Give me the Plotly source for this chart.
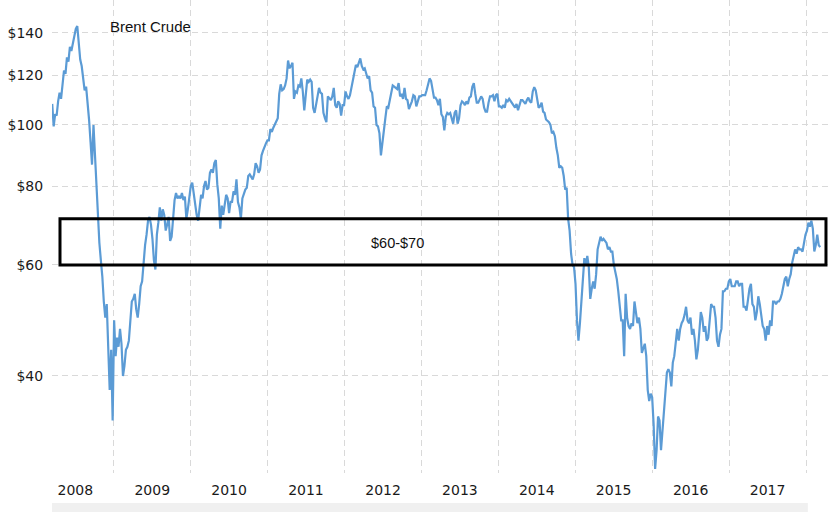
import numpy as np
import pandas as pd
import plotly.graph_objects as go

# Weekly (Friday) Brent crude prices, USD/barrel
brent_2008 = [108, 99.5, 104,
              103.5, 109, 112.5, 110,
              116, 122, 120.5, 128, 126,
              133, 131, 135, 139.5,
              142, 143.5, 135, 127,
              124, 117, 113.5, 115, 109,
              102, 94, 86.5, 100,
              90, 80, 71, 65, 61,
              57.5, 52.5, 49.5, 52,
              45, 38, 44, 34]
brent_2009 = [49, 43, 46, 44.5, 47.5, 45, 40, 41.5, 44, 44.5,
              45.5, 50, 52.5, 53, 54, 51, 49.5, 52, 55.5, 56.5,
              60.5, 64.5, 67, 70.5, 71.5, 69.5, 66, 61, 59, 67,
              70, 74, 70.5, 73.5, 72, 68, 69.5, 71.5, 65.5, 66.5,
              71, 76, 78, 76.5, 77, 76.5, 78, 76, 77, 71,
              73.5, 77.5]
brent_2010 = [80, 81, 77.5, 74.5, 72,
              70.5, 74, 77.5, 76.5,
              80, 81.5, 79, 79.5,
              84, 85, 84, 87, 88,
              80.5, 76.5, 68.5, 74.5,
              72, 74.5, 77.5, 76.5,
              72.5, 75.5, 75.5, 78.5, 77.5,
              82, 75.5, 74, 71,
              76.5, 78, 79, 79.5,
              83, 83.5, 82.5, 82, 83.5,
              87, 86, 84, 85,
              89.5, 91, 92.5, 93.5, 94.5]
brent_2011 = [94.5, 98.5, 97.5, 99,
              100, 101.5, 102.5, 112,
              116, 113.5, 114, 115.5,
              118.5, 126.5, 123, 124, 125.5,
              110, 113, 112.5, 115.5,
              115, 118.5, 113, 105.5,
              111.5, 118, 117, 118, 117,
              106.5, 104.5, 108.5, 111,
              114.5, 112.5, 112, 104.5, 102.5,
              101, 111, 110, 109.5,
              111, 114.5, 107.5, 106.5,
              109, 108, 103.5, 107.5, 107.5]
brent_2012 = [113, 111, 110, 111.5,
              114.5, 118, 120, 124.5,
              123.5, 126, 127.5, 124, 122.5,
              123, 121, 118.5, 119.5,
              113.5, 112.5, 107, 106.5,
              100, 99.5, 97, 89.5, 95,
              98, 102.5, 107, 106.5,
              109, 112.5, 115.5, 115, 114.5,
              114, 116.5, 111, 112,
              110, 114.5, 110, 109.5,
              106, 107.5, 109, 111.5, 111,
              107, 109, 111, 111]
brent_2013 = [111.5, 111.5, 111.5, 113.5,
              116, 118.5, 117.5, 114,
              110.5, 110.5, 109.5, 107.5, 110,
              104, 103, 98, 103,
              104.5, 104, 104.5, 102.5, 100.5,
              104.5, 105.5, 100.5, 102.5,
              107.5, 109, 108.5, 107.5,
              109, 108, 110.5, 111, 115,
              116.5, 112, 108.5, 108.5,
              109.5, 111, 110, 106.5,
              105, 105, 108.5, 111, 111,
              111.5, 109, 111.5, 112]
brent_2014 = [107, 107, 106.5, 107.5, 106.5,
              109.5, 109, 110, 109,
              108.5, 107.5, 106.5, 108,
              105.5, 107.5, 109.5, 109.5,
              108.5, 108, 109.5, 110.5, 109,
              108.5, 113, 114.8, 113.5,
              110.5, 106.5, 107, 108.5,
              105, 104.5, 102, 101.5, 101,
              100, 97, 97.5, 96,
              92, 89.5, 85.5, 86, 85.5,
              83, 79, 79.5, 71,
              68, 62.5, 60, 59.5]
brent_2015 = [56, 49, 45.5, 48.5, 52.5,
              58, 61.5, 60, 62,
              59.5, 53, 55, 56.5,
              55, 58, 63.5, 65,
              66.5, 65.5, 66, 65.5, 65,
              63.5, 64, 63, 63,
              60, 58.5, 57, 54.5, 52,
              49, 49, 43, 54,
              49.5, 48, 47.5, 48.5,
              48, 52.5, 50.5, 48.5, 49.5,
              47.5, 43.5, 44.5, 45,
              43, 38, 36.5, 37.5]
brent_2016 = [37, 33.5, 28.5, 30.5, 34.5,
              34, 30.5, 33, 35,
              38.5, 40.5, 41, 40.5,
              38.5, 42, 43, 45, 47.5,
              45.5, 47.5, 48.5, 49,
              50, 51.5, 49, 48.5,
              49.5, 46.5, 47.5, 45.5, 42.5,
              44, 47, 50.5, 49.5,
              47, 48, 45.5, 46, 49,
              52, 51.5, 51.5, 49.5,
              45.5, 44.5, 46.5, 47.5,
              54.5, 54.5, 55, 55, 56.5]
brent_2017 = [57, 55.5, 55.5, 55.5,
              56.5, 56.5, 55.5, 56,
              56, 51.5, 51.5, 50.8, 52.8,
              55, 56, 52, 51.5,
              49, 50.5, 53.5, 52,
              50, 48, 47.5, 45.5, 48,
              46.5, 49, 48, 52.5,
              52.5, 52, 52.5, 52.5,
              53, 54, 55.5, 57, 57.5,
              55.5, 57, 58, 60.5,
              62, 63.5, 62.5, 64,
              63.5, 63.5, 63, 65, 67]
brent_2018 = [68, 70, 69, 70.5, 68.5, 63, 64.5, 67, 64.5, 64]

series_starts = ["2008-03-14", "2009-01-02", "2010-01-01", "2011-01-07", "2012-01-06",
                 "2013-01-04", "2014-01-03", "2015-01-02", "2016-01-01", "2017-01-06",
                 "2018-01-05"]
series_values = [brent_2008, brent_2009, brent_2010, brent_2011, brent_2012, brent_2013,
                 brent_2014, brent_2015, brent_2016, brent_2017, brent_2018]

price_ticks = [40, 60, 80, 100, 120, 140]
price_labels = ["$40", "$60", "$80", "$100", "$120", "$140"]
year_labels = [str(y) for y in range(2008, 2018)]
year_label_pos = [f"{y}-07-02" for y in range(2008, 2018)]
year_bounds = [f"{y}-01-01" for y in range(2009, 2019)]

band_low, band_high = 60, 71

dates = []
prices = []
for start, vals in zip(series_starts, series_values):
    d = pd.date_range(start=start, periods=len(vals), freq="W-FRI")
    dates.extend(list(d))
    prices.extend(vals)
s = pd.Series(prices, index=pd.DatetimeIndex(dates)).sort_index()
s = s[~s.index.duplicated()]

grid_col = "#d9d9d9"
dash = "6px,4px"
tick_font = dict(family="DejaVu Sans", size=14, color="#1a1a1a")

fig = go.Figure()
fig.add_trace(go.Scatter(
    x=s.index, y=s.values, mode="lines",
    line=dict(color="#5b9bd5", width=2.2),
    hoverinfo="skip", showlegend=False,
))

fig.update_layout(
    width=828, height=512,
    margin=dict(l=52, r=0, t=0, b=39, pad=0),
    paper_bgcolor="white", plot_bgcolor="white",
    showlegend=False,
    xaxis=dict(
        type="date",
        range=["2008-03-13", "2018-04-15"],
        tickmode="array", tickvals=year_label_pos, ticktext=year_labels,
        showgrid=False, zeroline=False, showline=False,
        ticks="outside", ticklen=4, tickcolor="rgba(0,0,0,0)",
        tickfont=tick_font, automargin=False,
        minor=dict(tickmode="array", tickvals=year_bounds, showgrid=True,
                   gridcolor=grid_col, griddash=dash, gridwidth=1, ticks=""),
        fixedrange=True,
    ),
    yaxis=dict(
        type="log",
        range=[np.log10(28.07), np.log10(157.8)],
        tickmode="array", tickvals=price_ticks, ticktext=price_labels,
        showgrid=True, gridcolor=grid_col, griddash=dash, gridwidth=1,
        zeroline=False, showline=False,
        ticks="outside", ticklen=5, tickcolor="rgba(0,0,0,0)",
        tickfont=tick_font, automargin=False,
        fixedrange=True,
    ),
    shapes=[
        dict(type="rect", xref="paper", yref="y",
             x0=0.0103, x1=0.9974, y0=band_low, y1=band_high,
             line=dict(color="black", width=3), fillcolor="rgba(0,0,0,0)"),
        dict(type="rect", xref="paper", yref="paper",
             x0=0.0, x1=0.974, y0=-0.0825, y1=-0.0634,
             line=dict(width=0), fillcolor="#f0f0f0", layer="below"),
    ],
    annotations=[
        dict(text="Brent Crude", xref="paper", yref="paper", x=0.1263, y=0.945,
             showarrow=False, font=dict(family="Liberation Sans, Arial", size=15, color="#111"),
             xanchor="center", yanchor="middle"),
        dict(text="$60-$70", xref="paper", yref="y", x=0.4446, y=np.log10(65.0),
             showarrow=False, font=dict(family="Liberation Sans, Arial", size=14.5, color="#111"),
             xanchor="center", yanchor="middle"),
    ],
)

fig.write_html("out.html", config={"displayModeBar": False},
               post_script="document.body.style.margin='0';document.body.style.overflow='hidden';")
